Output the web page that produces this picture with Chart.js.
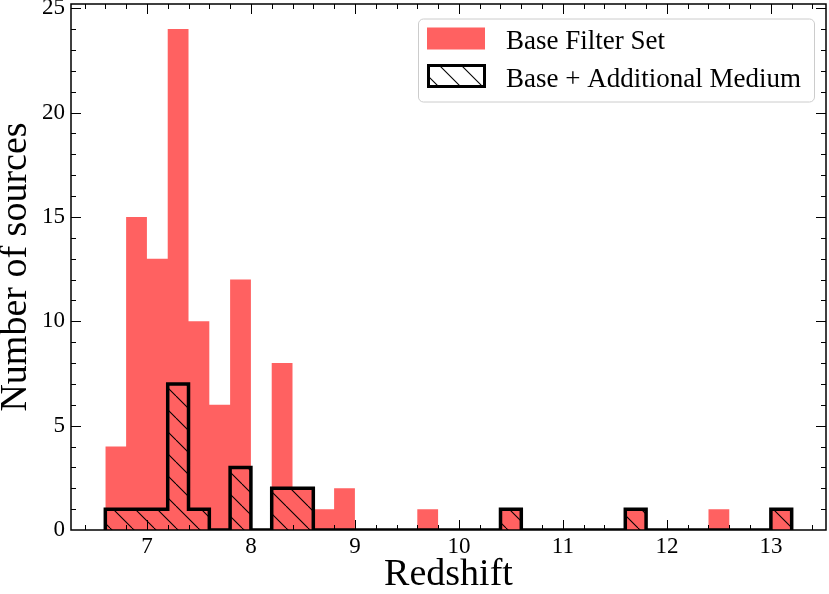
<!DOCTYPE html>
<html>
<head>
<meta charset="utf-8">
<script src="https://cdn.jsdelivr.net/npm/chart.js@4.4.1/dist/chart.umd.min.js"></script>
<style>
    html, body { margin: 0; padding: 0; background: #ffffff; }
    #wrap { width: 829px; height: 594px; }
</style>
</head>
<body>
<div id="wrap"><canvas id="redshiftChart"></canvas></div>
<script>
// Histogram bins (left edges), width 0.2
const binStarts = [6.6, 6.8, 7.0, 7.2, 7.4, 7.6, 7.8, 8.0, 8.2, 8.4, 8.6, 8.8, 9.0, 9.2, 9.4, 9.6, 9.8,
    10.0, 10.2, 10.4, 10.6, 10.8, 11.0, 11.2, 11.4, 11.6, 11.8, 12.0, 12.2, 12.4, 12.6, 12.8, 13.0];
const binWidth = 0.2;

const baseCounts = [4, 15, 13, 24, 10, 6, 12, 0, 8, 2, 1, 2, 0, 0, 0, 1, 0,
    0, 0, 1, 0, 0, 0, 0, 0, 1, 0, 0, 0, 1, 0, 0, 1];
const mediumCounts = [1, 1, 1, 7, 1, 0, 3, 0, 2, 2, 0, 0, 0, 0, 0, 0, 0,
    0, 0, 1, 0, 0, 0, 0, 0, 1, 0, 0, 0, 0, 0, 0, 1];

const seriesLabels = ['Base Filter Set', 'Base + Additional Medium'];
const xTickValues = [7, 8, 9, 10, 11, 12, 13];
const yTickValues = [0, 5, 10, 15, 20, 25];

const RED = 'rgb(255, 97, 97)';
const FONT = '"Liberation Serif", "Times New Roman", serif';

// turn counts into a closed step outline
function stepPoints(counts) {
    const pts = [{ x: binStarts[0], y: 0 }];
    counts.forEach((c, i) => pts.push({ x: binStarts[i], y: c }));
    pts.push({ x: binStarts[binStarts.length - 1] + binWidth, y: 0 });
    return pts;
}

function makeHatch() {
    const size = 22;
    const c = document.createElement('canvas');
    c.width = size;
    c.height = size;
    const g = c.getContext('2d');
    g.strokeStyle = '#000';
    g.lineWidth = 1.1;
    [-size, 0, size].forEach(off => {
        g.beginPath();
        g.moveTo(off, 0);
        g.lineTo(off + size, size);
        g.stroke();
    });
    return g.createPattern(c, 'repeat');
}

// frame + inward ticks on all four sides
const frameTicks = {
    id: 'frameTicks',
    afterDatasetsDraw(chart) {
        const { ctx, chartArea: a, scales: { x, y } } = chart;
        ctx.save();
        ctx.strokeStyle = '#000';
        ctx.lineWidth = 1;
        const tick = (x1, y1, x2, y2) => {
            ctx.beginPath();
            ctx.moveTo(x1, y1);
            ctx.lineTo(x2, y2);
            ctx.stroke();
        };
        for (let v = 6.4; v < x.max; v += 0.2) {
            const px = Math.round(x.getPixelForValue(v)) + 0.5;
            const major = xTickValues.some(t => Math.abs(t - v) < 1e-6);
            const len = major ? 10 : 5;
            tick(px, a.bottom, px, a.bottom - len);
            tick(px, a.top, px, a.top + len);
        }
        for (let v = 1; v < y.max; v += 1) {
            const py = Math.round(y.getPixelForValue(v)) + 0.5;
            const len = yTickValues.includes(v) ? 10 : 5;
            tick(a.left, py, a.left + len, py);
            tick(a.right, py, a.right - len, py);
        }
        ctx.lineWidth = 1.5;
        ctx.strokeRect(a.left, a.top, a.right - a.left, a.bottom - a.top);
        ctx.restore();
    }
};

const histLegend = {
    id: 'histLegend',
    afterDraw(chart) {
        const { ctx, chartArea: a } = chart;
        const right = a.right - 12, top = a.top + 14.5;
        const w = 396, h = 83;
        const left = right - w;
        ctx.save();
        ctx.fillStyle = 'rgba(255,255,255,0.8)';
        ctx.strokeStyle = '#cccccc';
        ctx.lineWidth = 1;
        ctx.beginPath();
        ctx.roundRect(left + 0.5, top + 0.5, w, h, 5);
        ctx.fill();
        ctx.stroke();

        // swatches
        ctx.fillStyle = RED;
        ctx.fillRect(left + 9, top + 9, 58, 22);
        ctx.fillStyle = chart.data.datasets[1].backgroundColor;
        ctx.fillRect(left + 10, top + 47, 56, 20);
        ctx.strokeStyle = '#000';
        ctx.lineWidth = 3;
        ctx.strokeRect(left + 10.5, top + 47, 56, 21);

        ctx.fillStyle = '#000';
        ctx.font = '27px ' + FONT;
        ctx.textBaseline = 'alphabetic';
        ctx.fillText(seriesLabels[0], left + 88, top + 30);
        ctx.fillText(seriesLabels[1], left + 88, top + 68);
        ctx.restore();
    }
};

const ctx = document.getElementById('redshiftChart').getContext('2d');
new Chart(ctx, {
    type: 'line',
    data: {
        datasets: [
            {
                label: seriesLabels[0],
                data: stepPoints(baseCounts),
                stepped: 'before',
                fill: 'origin',
                backgroundColor: RED,
                borderWidth: 0,
                pointRadius: 0,
                order: 2
            },
            {
                label: seriesLabels[1],
                data: stepPoints(mediumCounts),
                stepped: 'before',
                fill: 'origin',
                backgroundColor: makeHatch(),
                borderColor: '#000',
                borderWidth: 3.5,
                borderJoinStyle: 'miter',
                pointRadius: 0,
                order: 1
            }
        ]
    },
    options: {
        responsive: true,
        maintainAspectRatio: false,
        animation: false,
        events: [],
        layout: { padding: { left: 0, right: 3, top: 4, bottom: 0 } },
        plugins: {
            legend: { display: false },
            tooltip: { enabled: false }
        },
        scales: {
            x: {
                type: 'linear',
                min: 6.27,
                max: 13.53,
                grid: { display: false, drawTicks: false },
                border: { display: false },
                ticks: {
                    color: '#000',
                    font: { family: FONT, size: 23 },
                    padding: 3,
                    maxRotation: 0,
                    autoSkip: false
                },
                title: {
                    display: true,
                    text: 'Redshift',
                    color: '#000',
                    font: { family: FONT, size: 38, lineHeight: 1 },
                    padding: 0
                },
                afterBuildTicks: s => { s.ticks = xTickValues.map(v => ({ value: v })); },
                afterFit: s => {
                    s.height = 64;
                    s.paddingLeft = 0;
                    s.paddingRight = 0;
                }
            },
            y: {
                min: 0,
                max: 25.2,
                grid: { display: false, drawTicks: false },
                border: { display: false },
                ticks: {
                    color: '#000',
                    font: { family: FONT, size: 23 },
                    padding: 6
                },
                title: {
                    display: true,
                    text: 'Number of sources',
                    color: '#000',
                    font: { family: FONT, size: 38, lineHeight: 0.85 },
                    padding: 0
                },
                afterBuildTicks: s => { s.ticks = yTickValues.map(v => ({ value: v })); },
                afterFit: s => {
                    s.width = 71;
                    s.paddingTop = 0;
                    s.paddingBottom = 0;
                }
            }
        }
    },
    plugins: [frameTicks, histLegend]
});
</script>
</body>
</html>
